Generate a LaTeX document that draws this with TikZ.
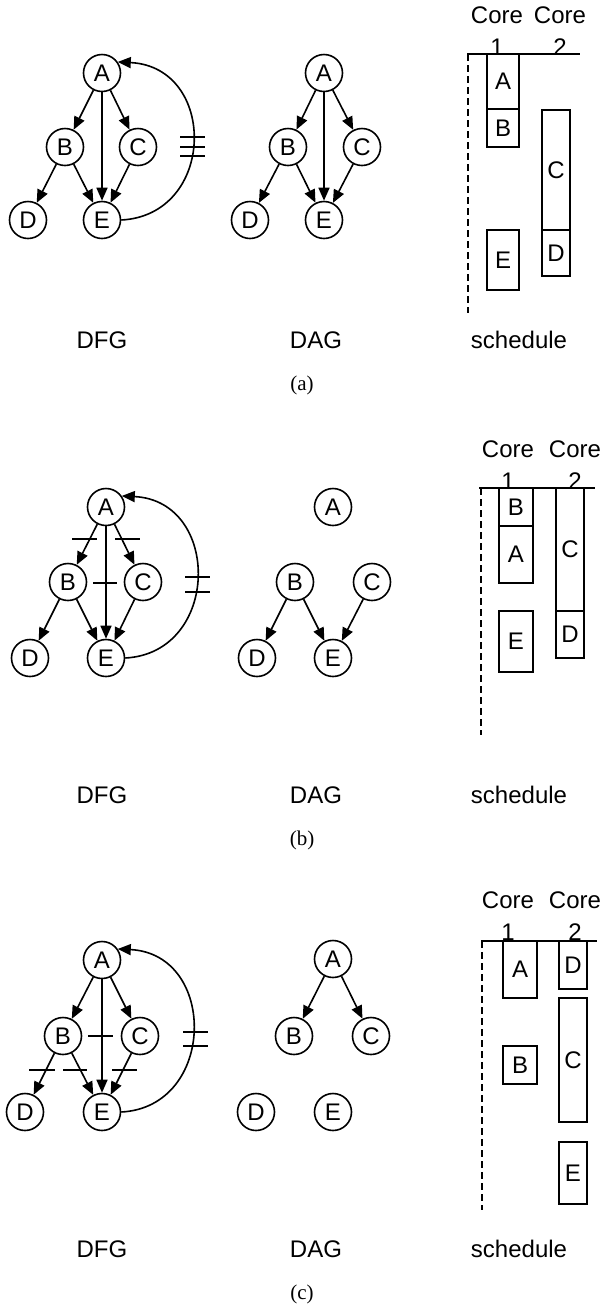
\documentclass[tikz,border=0pt]{standalone}
\usepackage{fontspec}
\setmainfont{Liberation Sans}
\newfontfamily\capfont{Liberation Serif}
\usetikzlibrary{arrows.meta}

\begin{document}
\begin{tikzpicture}[x=0.5pt, y=-0.5pt,
  vertex/.style={circle, draw, line width=0.8pt, minimum size=18.5pt, inner sep=0pt, font=\fontsize{12}{14}\selectfont},
  arr/.style={-{Triangle[length=6.5pt, width=5.5pt]}, line width=0.8pt},
  cut/.style={line width=0.8pt},
  slot/.style={draw, line width=0.8pt},
  lbl/.style={font=\fontsize{12}{14}\selectfont},
  core/.style={align=center, font=\fontsize{12}{16}\selectfont},
  subcap/.style={font=\capfont\fontsize{10.5}{12}\selectfont},
  axis/.style={line width=0.8pt},
  time/.style={line width=0.8pt, dash pattern=on 3.5pt off 2pt},
]
  \useasboundingbox (0,0) rectangle (607,1308);

  % (a)
  \node[vertex] (fa-A) at (102,73) {A};
  \node[vertex] (fa-B) at (65,147) {B};
  \node[vertex] (fa-C) at (138,147) {C};
  \node[vertex] (fa-D) at (28,220) {D};
  \node[vertex] (fa-E) at (102,220) {E};
  \draw[arr] (fa-A) -- (fa-B);
  \draw[arr] (fa-A) -- (fa-C);
  \draw[arr] (fa-A) -- (fa-E);
  \draw[arr] (fa-B) -- (fa-D);
  \draw[arr] (fa-B) -- (fa-E);
  \draw[arr] (fa-C) -- (fa-E);
  \draw[arr] (fa-E.east) .. controls +(95,-5) and +(100,5) .. (fa-A.35);
  \foreach \y in {137,147,156} \draw[cut] (180,\y) -- (205,\y);

  \node[vertex] (ga-A) at (324,73) {A};
  \node[vertex] (ga-B) at (288,147) {B};
  \node[vertex] (ga-C) at (362,147) {C};
  \node[vertex] (ga-D) at (250,220) {D};
  \node[vertex] (ga-E) at (324,220) {E};
  \draw[arr] (ga-A) -- (ga-B);
  \draw[arr] (ga-A) -- (ga-C);
  \draw[arr] (ga-A) -- (ga-E);
  \draw[arr] (ga-B) -- (ga-D);
  \draw[arr] (ga-B) -- (ga-E);
  \draw[arr] (ga-C) -- (ga-E);

  \node[core] (ca-1) at (497,31) {Core\\1};
  \node[core] (ca-2) at (560,31) {Core\\2};
  \draw[axis] (467,54) -- (580,54);
  \draw[time] (468,54) -- (468,313);
  \draw[slot] (487,54) rectangle node[lbl] (sa-A) {A} (519,109);
  \draw[slot] (487,109) rectangle node[lbl] (sa-B) {B} (519,147);
  \draw[slot] (487,230) rectangle node[lbl] (sa-E) {E} (519,290);
  \draw[slot] (542,110) rectangle node[lbl] (sa-C) {C} (570,230);
  \draw[slot] (542,230) rectangle node[lbl] (sa-D) {D} (570,276);

  \node[lbl] (la-dfg) at (102,340) {DFG};
  \node[lbl] (la-dag) at (316,340) {DAG};
  \node[lbl] (la-sch) at (519,340) {schedule};
  \node[subcap] (cap-a) at (302,385) {(a)};

  % (b)
  \node[vertex] (fb-A) at (106,507) {A};
  \node[vertex] (fb-B) at (68,582) {B};
  \node[vertex] (fb-C) at (143,582) {C};
  \node[vertex] (fb-D) at (30,658) {D};
  \node[vertex] (fb-E) at (106,658) {E};
  \draw[arr] (fb-A) -- (fb-B);
  \draw[arr] (fb-A) -- (fb-C);
  \draw[arr] (fb-A) -- (fb-E);
  \draw[arr] (fb-B) -- (fb-D);
  \draw[arr] (fb-B) -- (fb-E);
  \draw[arr] (fb-C) -- (fb-E);
  \draw[arr] (fb-E.east) .. controls +(95,-5) and +(100,5) .. (fb-A.35);
  \foreach \y in {577,592} \draw[cut] (185,\y) -- (210,\y);
  \draw[cut] (72,539) -- (97,539);
  \draw[cut] (115,539) -- (140,539);
  \draw[cut] (93,583) -- (117,583);

  \node[vertex] (gb-A) at (333,507) {A};
  \node[vertex] (gb-B) at (295,582) {B};
  \node[vertex] (gb-C) at (372,582) {C};
  \node[vertex] (gb-D) at (257,658) {D};
  \node[vertex] (gb-E) at (333,658) {E};
  \draw[arr] (gb-B) -- (gb-D);
  \draw[arr] (gb-B) -- (gb-E);
  \draw[arr] (gb-C) -- (gb-E);

  \node[core] (cb-1) at (508,465) {Core\\1};
  \node[core] (cb-2) at (575,465) {Core\\2};
  \draw[axis] (479,488) -- (595,488);
  \draw[time] (481,488) -- (481,735);
  \draw[slot] (499,488) rectangle node[lbl] (sb-B) {B} (533,526);
  \draw[slot] (499,526) rectangle node[lbl] (sb-A) {A} (533,583);
  \draw[slot] (499,611) rectangle node[lbl] (sb-E) {E} (533,672);
  \draw[slot] (556,488) rectangle node[lbl] (sb-C) {C} (584,611);
  \draw[slot] (556,611) rectangle node[lbl] (sb-D) {D} (584,658);

  \node[lbl] (lb-dfg) at (102,795) {DFG};
  \node[lbl] (lb-dag) at (316,795) {DAG};
  \node[lbl] (lb-sch) at (519,795) {schedule};
  \node[subcap] (cap-b) at (302,840) {(b)};

  % (c)
  \node[vertex] (fc-A) at (102,960) {A};
  \node[vertex] (fc-B) at (63,1036) {B};
  \node[vertex] (fc-C) at (140,1036) {C};
  \node[vertex] (fc-D) at (25,1112) {D};
  \node[vertex] (fc-E) at (102,1112) {E};
  \draw[arr] (fc-A) -- (fc-B);
  \draw[arr] (fc-A) -- (fc-C);
  \draw[arr] (fc-A) -- (fc-E);
  \draw[arr] (fc-B) -- (fc-D);
  \draw[arr] (fc-B) -- (fc-E);
  \draw[arr] (fc-C) -- (fc-E);
  \draw[arr] (fc-E.east) .. controls +(95,-5) and +(100,5) .. (fc-A.35);
  \foreach \y in {1032,1046} \draw[cut] (183,\y) -- (208,\y);
  \draw[cut] (88,1036) -- (113,1036);
  \draw[cut] (29,1070) -- (55,1070);
  \draw[cut] (63,1070) -- (87,1070);
  \draw[cut] (112,1070) -- (137,1070);

  \node[vertex] (gc-A) at (333,959) {A};
  \node[vertex] (gc-B) at (294,1036) {B};
  \node[vertex] (gc-C) at (371,1036) {C};
  \node[vertex] (gc-D) at (256,1112) {D};
  \node[vertex] (gc-E) at (333,1112) {E};
  \draw[arr] (gc-A) -- (gc-B);
  \draw[arr] (gc-A) -- (gc-C);

  \node[core] (cc-1) at (508,916) {Core\\1};
  \node[core] (cc-2) at (575,916) {Core\\2};
  \draw[axis] (481,941) -- (597,941);
  \draw[time] (482,941) -- (482,1210);
  \draw[slot] (503,941) rectangle node[lbl] (sc-A) {A} (537,998);
  \draw[slot] (503,1046) rectangle node[lbl] (sc-B) {B} (537,1084);
  \draw[slot] (559,941) rectangle node[lbl] (sc-D) {D} (587,989);
  \draw[slot] (559,998) rectangle node[lbl] (sc-C) {C} (587,1122);
  \draw[slot] (559,1142) rectangle node[lbl] (sc-E) {E} (587,1204);

  \node[lbl] (lc-dfg) at (102,1249) {DFG};
  \node[lbl] (lc-dag) at (316,1249) {DAG};
  \node[lbl] (lc-sch) at (519,1249) {schedule};
  \node[subcap] (cap-c) at (302,1294) {(c)};
\end{tikzpicture}
\end{document}
